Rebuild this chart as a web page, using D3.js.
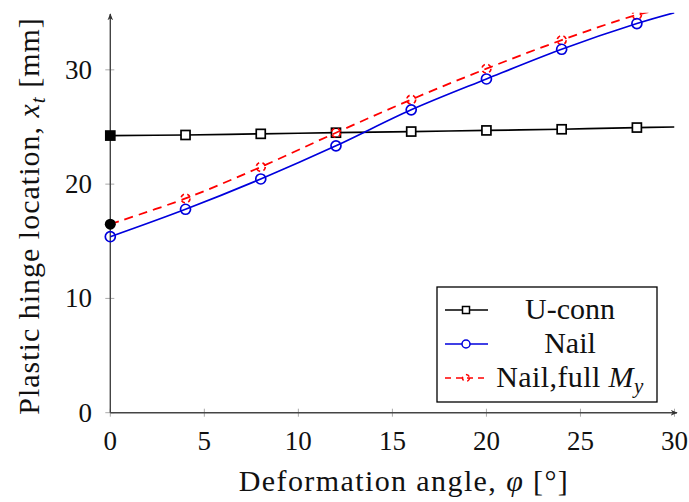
<!DOCTYPE html>
<meta charset="utf-8">
<html>
<head>
<style>
  body { margin: 0; background: #fff; }
</style>
</head>
<body>
<svg width="689" height="502"></svg>
<script src="https://cdn.jsdelivr.net/npm/d3@7"></script>
<script>
// deformation angle [deg]
var angles = [0, 4, 8, 12, 16, 20, 24, 28, 30];
// plastic hinge location x_t [mm]
var uconn = [24.25, 24.3, 24.4, 24.5, 24.6, 24.7, 24.8, 24.95, 25.0];
var nail = [15.4, 17.8, 20.45, 23.35, 26.5, 29.2, 31.8, 34.05, 35.0];
var nailFull = [16.5, 18.75, 21.5, 24.5, 27.4, 30.1, 32.6, 34.8, 35.5];
var xTicks = [0, 5, 10, 15, 20, 25, 30];
var yTicks = [0, 10, 20, 30];

var FONT = "Liberation Serif";
var svg = d3.select("svg");
var x = d3.scaleLinear().domain([0, 30]).range([110.3, 674.5]);
var y = d3.scaleLinear().domain([0, 35]).range([412.7, 12.7]);

var defs = svg.append("defs");
defs.append("clipPath").attr("id", "plot")
  .append("rect").attr("x", 100).attr("y", y(35)).attr("width", x(30) - 100).attr("height", y(0) - y(35) + 10);
defs.append("marker").attr("id", "arrow").attr("viewBox", "0 0 10 10")
    .attr("refX", 9).attr("refY", 5).attr("markerWidth", 7).attr("markerHeight", 7)
    .attr("markerUnits", "userSpaceOnUse").attr("orient", "auto")
  .append("path").attr("d", "M0,1 L10,5 L0,9 L3,5 Z").attr("fill", "#333");

// ticks (gray, crossing the axes)
svg.append("g").selectAll("line").data(xTicks).enter().append("line")
    .attr("x1", function(d) { return x(d); }).attr("x2", function(d) { return x(d); })
    .attr("y1", y(0) - 4).attr("y2", y(0) + 4)
    .attr("stroke", "#aaa").attr("stroke-width", 1);
svg.append("g").selectAll("line").data(yTicks).enter().append("line")
    .attr("y1", function(d) { return y(d); }).attr("y2", function(d) { return y(d); })
    .attr("x1", x(0) - 5).attr("x2", x(0) + 4)
    .attr("stroke", "#aaa").attr("stroke-width", 1);

// tick labels
svg.append("g").selectAll("text").data(xTicks).enter().append("text")
    .attr("x", function(d) { return x(d); }).attr("y", 450)
    .attr("text-anchor", "middle").attr("font-family", FONT).attr("font-size", 27).attr("fill", "#111")
    .text(function(d) { return d; });
svg.append("g").selectAll("text").data(yTicks).enter().append("text")
    .attr("x", 92).attr("y", function(d) { return y(d) + 9; })
    .attr("text-anchor", "end").attr("font-family", FONT).attr("font-size", 27).attr("fill", "#111")
    .text(function(d) { return d; });

// axis lines with arrows
svg.append("line").attr("x1", x(0)).attr("y1", y(0)).attr("x2", x(0)).attr("y2", 14)
    .attr("stroke", "#444").attr("stroke-width", 1.4).attr("marker-end", "url(#arrow)");
svg.append("line").attr("x1", x(0)).attr("y1", y(0)).attr("x2", 677).attr("y2", y(0))
    .attr("stroke", "#444").attr("stroke-width", 1.4).attr("marker-end", "url(#arrow)");

var line = d3.line()
    .x(function(d) { return x(d[0]); })
    .y(function(d) { return y(d[1]); })
    .curve(d3.curveCatmullRom);

function pairs(vals) { return angles.map(function(a, i) { return [a, vals[i]]; }); }
function marks(vals) { return pairs(vals).filter(function(d) { return d[0] % 4 === 0; }); }

var plot = svg.append("g").attr("clip-path", "url(#plot)");

// U-conn
plot.append("path").attr("d", line(pairs(uconn)))
    .attr("fill", "none").attr("stroke", "#000").attr("stroke-width", 1.7);
plot.append("g").selectAll("rect").data(marks(uconn)).enter().append("rect")
    .attr("x", function(d) { return x(d[0]) - 4.5; }).attr("y", function(d) { return y(d[1]) - 4.5; })
    .attr("width", 9).attr("height", 9)
    .attr("fill", function(d, i) { return i === 0 ? "#000" : "#fff"; })
    .attr("stroke", "#000").attr("stroke-width", 1.7);

// Nail, full My (dashed, marks inherit the dash)
plot.append("path").attr("d", line(pairs(nailFull)))
    .attr("fill", "none").attr("stroke", "#f00").attr("stroke-width", 1.8)
    .attr("stroke-dasharray", "9,6");
plot.append("g").selectAll("circle").data(marks(nailFull).slice(1)).enter().append("circle")
    .attr("cx", function(d) { return x(d[0]); }).attr("cy", function(d) { return y(d[1]); })
    .attr("r", 4.5).attr("fill", "none").attr("stroke", "#f00").attr("stroke-width", 1.7)
    .attr("stroke-dasharray", "4,3.5");

// Nail
plot.append("path").attr("d", line(pairs(nail)))
    .attr("fill", "none").attr("stroke", "#0000dd").attr("stroke-width", 1.7);
plot.append("g").selectAll("circle").data(marks(nail)).enter().append("circle")
    .attr("cx", function(d) { return x(d[0]); }).attr("cy", function(d) { return y(d[1]); })
    .attr("r", 5).attr("fill", "none").attr("stroke", "#0000dd").attr("stroke-width", 1.7);

// filled start point of the full-My curve
plot.append("circle").attr("cx", x(0)).attr("cy", y(nailFull[0])).attr("r", 5.5).attr("fill", "#000");

// axis titles
svg.append("text").attr("x", 404).attr("y", 491).attr("text-anchor", "middle")
    .attr("font-family", FONT).attr("font-size", 30).attr("letter-spacing", 1.4).attr("fill", "#111")
    .html("Deformation angle, <tspan font-style='italic'>φ</tspan> [°]");
svg.append("text").attr("transform", "translate(39,216) rotate(-90)").attr("text-anchor", "middle")
    .attr("font-family", FONT).attr("font-size", 30).attr("letter-spacing", 1).attr("fill", "#111")
    .html("Plastic hinge location, <tspan font-style='italic'>x</tspan><tspan font-style='italic' font-size='21' dy='6'>t</tspan><tspan dy='-6'> [mm]</tspan>");

// legend
var lg = svg.append("g");
lg.append("rect").attr("x", 437).attr("y", 287).attr("width", 220).attr("height", 115)
    .attr("fill", "#fff").attr("stroke", "#000").attr("stroke-width", 1.3);
var rows = [310, 344, 378];
lg.append("line").attr("x1", 445).attr("x2", 488).attr("y1", rows[0]).attr("y2", rows[0])
    .attr("stroke", "#000").attr("stroke-width", 1.7);
lg.append("rect").attr("x", 462.5).attr("y", rows[0] - 3.5).attr("width", 7).attr("height", 7)
    .attr("fill", "#fff").attr("stroke", "#000").attr("stroke-width", 1.5);
lg.append("line").attr("x1", 445).attr("x2", 488).attr("y1", rows[1]).attr("y2", rows[1])
    .attr("stroke", "#0000dd").attr("stroke-width", 1.7);
lg.append("circle").attr("cx", 466).attr("cy", rows[1]).attr("r", 4)
    .attr("fill", "#fff").attr("stroke", "#0000dd").attr("stroke-width", 1.5);
lg.append("line").attr("x1", 445).attr("x2", 488).attr("y1", rows[2]).attr("y2", rows[2])
    .attr("stroke", "#f00").attr("stroke-width", 1.7).attr("stroke-dasharray", "6,5");
lg.append("circle").attr("cx", 466).attr("cy", rows[2]).attr("r", 3.5)
    .attr("fill", "none").attr("stroke", "#f00").attr("stroke-width", 1.5).attr("stroke-dasharray", "4,4");

lg.append("text").attr("x", 570).attr("y", rows[0] + 9).attr("text-anchor", "middle")
    .attr("font-family", FONT).attr("font-size", 30).attr("fill", "#111").text("U-conn");
lg.append("text").attr("x", 570).attr("y", rows[1] + 9).attr("text-anchor", "middle")
    .attr("font-family", FONT).attr("font-size", 30).attr("fill", "#111").text("Nail");
lg.append("text").attr("x", 570).attr("y", rows[2] + 9).attr("text-anchor", "middle")
    .attr("font-family", FONT).attr("font-size", 30).attr("letter-spacing", 0.4).attr("fill", "#111")
    .html("Nail,full <tspan font-style='italic'>M</tspan><tspan font-style='italic' font-size='21' dy='6'>y</tspan>");
</script>
</body>
</html>
